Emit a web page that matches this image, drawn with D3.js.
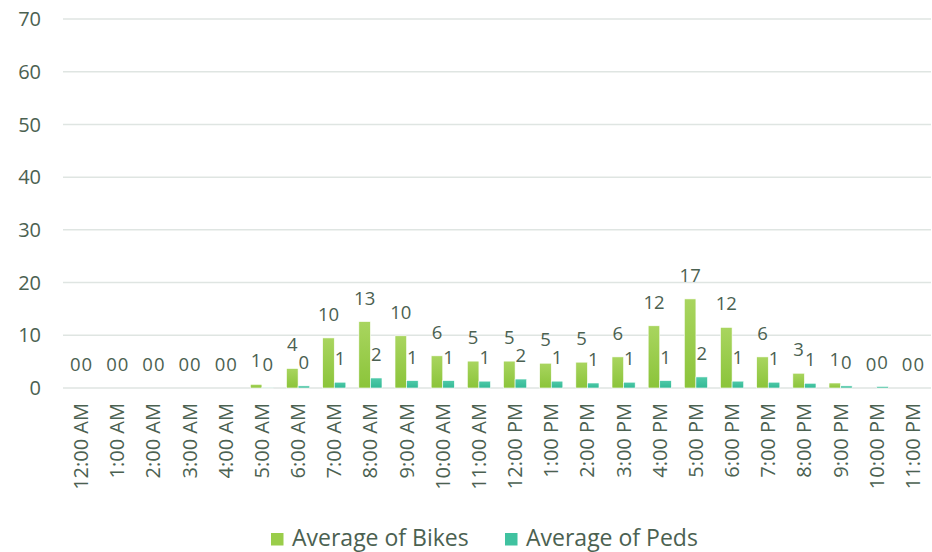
<!DOCTYPE html>
<html>
<head>
<meta charset="utf-8">
<script src="https://cdn.jsdelivr.net/npm/d3@7"></script>
<style>
  html, body { margin: 0; padding: 0; background: #fff; }
  svg { display: block; font-family: "Open Sans", sans-serif; }
</style>
</head>
<body>
<svg id="chart" width="932" height="552"></svg>
<script>
// Hourly averages of bike and pedestrian counts
const hours = ["12:00 AM","1:00 AM","2:00 AM","3:00 AM","4:00 AM","5:00 AM","6:00 AM","7:00 AM",
  "8:00 AM","9:00 AM","10:00 AM","11:00 AM","12:00 PM","1:00 PM","2:00 PM","3:00 PM",
  "4:00 PM","5:00 PM","6:00 PM","7:00 PM","8:00 PM","9:00 PM","10:00 PM","11:00 PM"];
const bikes = [0,0,0,0,0,0.7,3.7,9.5,12.6,9.9,6.1,5.1,5.1,4.7,4.9,5.9,11.8,16.9,11.5,5.9,2.8,0.95,0,0];
const peds  = [0,0,0,0,0,0.05,0.4,1.1,1.9,1.4,1.4,1.3,1.7,1.3,0.95,1.1,1.4,2.1,1.3,1.1,0.9,0.4,0.3,0];
const yTicks = [0,10,20,30,40,50,60,70];
const seriesNames = ["Average of Bikes","Average of Peds"];

const svg = d3.select("#chart");
const textColor = "#4b6151";
const margin = { left: 63, right: 1, top: 19, bottom: 164 };
const W = 932, H = 552;

const x0 = d3.scaleBand().domain(hours).range([margin.left, W - margin.right]).paddingInner(0).paddingOuter(0);
const x1 = d3.scaleBand().domain(seriesNames).range([0, x0.bandwidth() * 0.64]);
const groupOffset = x0.bandwidth() * 0.18;
const y = d3.scaleLinear().domain([0, 70]).range([H - margin.bottom, margin.top]);

// gradients for bar fills
const defs = svg.append("defs");
function grad(id, top, bottom) {
  const g = defs.append("linearGradient").attr("id", id).attr("x1", 0).attr("y1", 0).attr("x2", 0).attr("y2", 1);
  g.append("stop").attr("offset", "0%").attr("stop-color", top);
  g.append("stop").attr("offset", "100%").attr("stop-color", bottom);
}
grad("gBikes", "#a9d55f", "#8bc43a");
grad("gPeds", "#4fcaa9", "#33b995");
const fills = { "Average of Bikes": "url(#gBikes)", "Average of Peds": "url(#gPeds)" };
const swatch = { "Average of Bikes": "#9acd4a", "Average of Peds": "#40c2a0" };

// gridlines
svg.append("g").selectAll("line").data(yTicks).join("line")
  .attr("x1", margin.left).attr("x2", W - margin.right)
  .attr("y1", d => y(d)).attr("y2", d => y(d))
  .attr("stroke", "#dfe5e2").attr("stroke-width", 1.5);

// y axis labels
svg.append("g").selectAll("text").data(yTicks).join("text")
  .attr("x", 41).attr("y", d => y(d)).attr("dy", "0.36em")
  .attr("text-anchor", "end").attr("font-size", 20).attr("fill", textColor)
  .text(d => d);

// bars
const rows = hours.map((h, i) => ({ h, vals: [
  { s: seriesNames[0], v: bikes[i] },
  { s: seriesNames[1], v: peds[i] }
]}));

const groups = svg.append("g").selectAll("g").data(rows).join("g")
  .attr("transform", d => `translate(${x0(d.h) + groupOffset},0)`);

groups.selectAll("rect").data(d => d.vals).join("rect")
  .attr("x", d => x1(d.s))
  .attr("width", x1.bandwidth())
  .attr("y", d => y(d.v))
  .attr("height", d => y(0) - y(d.v))
  .attr("fill", d => fills[d.s])
  .attr("stroke", "#ffffff").attr("stroke-width", 0.6);

// data labels
groups.selectAll("text").data(d => d.vals).join("text")
  .attr("x", d => x1(d.s) + x1.bandwidth() / 2)
  .attr("y", d => y(d.v) - 17)
  .attr("text-anchor", "middle").attr("font-size", 18.5).attr("fill", textColor)
  .text(d => Math.round(d.v));

// x axis labels, rotated
svg.append("g").selectAll("text").data(hours).join("text")
  .attr("transform", d => `translate(${x0(d) + x0.bandwidth() / 2 + 7},403) rotate(-90)`)
  .attr("text-anchor", "end").attr("font-size", 20).attr("fill", textColor)
  .text(d => d);

// legend
const legendX = [271, 505];
const lg = svg.append("g").selectAll("g").data(seriesNames).join("g")
  .attr("transform", (d, i) => `translate(${legendX[i]},533)`);
lg.append("rect").attr("width", 12.5).attr("height", 12.5).attr("fill", d => swatch[d]);
lg.append("text").attr("x", 21).attr("y", 12.8).attr("font-size", 23).attr("fill", textColor).text(d => d);
</script>
</body>
</html>
